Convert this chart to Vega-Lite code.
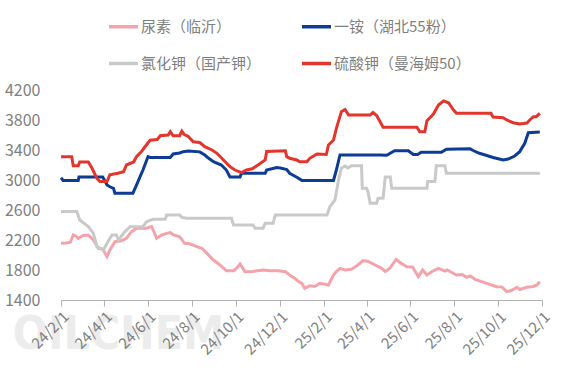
{
  "$schema": "https://vega.github.io/schema/vega-lite/v6.json",
  "width": 481,
  "height": 210,
  "autosize": {"type": "none"},
  "padding": {"left": 61, "top": 90, "right": 26, "bottom": 83},
  "background": "white",
  "config": {"view": {"stroke": null}, "font": "Noto Sans CJK SC"},
  "encoding": {
    "x": {
      "field": "date", "type": "temporal",
      "scale": {"domain": [{"year": 2024, "month": 2, "date": 1}, {"year": 2025, "month": 12, "date": 1}]},
      "axis": {
        "title": null, "grid": false, "zindex": 1, "labelOverlap": false,
        "values": [
          {"year": 2024, "month": 2, "date": 1}, {"year": 2024, "month": 4, "date": 1},
          {"year": 2024, "month": 6, "date": 1}, {"year": 2024, "month": 8, "date": 1},
          {"year": 2024, "month": 10, "date": 1}, {"year": 2024, "month": 12, "date": 1},
          {"year": 2025, "month": 2, "date": 1}, {"year": 2025, "month": 4, "date": 1},
          {"year": 2025, "month": 6, "date": 1}, {"year": 2025, "month": 8, "date": 1},
          {"year": 2025, "month": 10, "date": 1}, {"year": 2025, "month": 12, "date": 1}
        ],
        "format": "%y/%-m/%-d", "labelAngle": -45, "labelFontSize": 15,
        "labelColor": "#7f7f7f", "labelFont": "Noto Sans CJK SC",
        "domainColor": "#b3b3b3", "tickColor": "#b3b3b3", "tickSize": 6, "labelPadding": 3
      }
    },
    "y": {
      "field": "value", "type": "quantitative",
      "scale": {"domain": [1400, 4200], "nice": false},
      "axis": {
        "title": null, "grid": false, "domain": false, "ticks": false, "format": "d",
        "values": [1400, 1800, 2200, 2600, 3000, 3400, 3800, 4200],
        "labelFontSize": 16, "labelColor": "#7f7f7f", "labelFont": "Noto Sans CJK SC", "labelPadding": 21
      }
    }
  },
  "layer": [
    {
      "data": {"values": [{"label": "OILCHEM", "date": "2024-04-21", "value": 930}], "format": {"parse": {"date": "date:'%Y-%m-%d'"}}},
      "mark": {"type": "text", "font": "DejaVu Sans Condensed", "fontWeight": "bold", "fontSize": 46, "fill": "#ececec", "baseline": "middle", "align": "center"},
      "encoding": {"text": {"field": "label"}}
    },
    {
      "data": {
        "format": {"parse": {"date": "date:'%Y-%m-%d'"}},
        "values": [
          {"series": "尿素（临沂）", "date": "2024-02-01", "value": 2156},
          {"series": "尿素（临沂）", "date": "2024-02-08", "value": 2160},
          {"series": "尿素（临沂）", "date": "2024-02-14", "value": 2170},
          {"series": "尿素（临沂）", "date": "2024-02-18", "value": 2267},
          {"series": "尿素（临沂）", "date": "2024-02-22", "value": 2250},
          {"series": "尿素（临沂）", "date": "2024-02-25", "value": 2222},
          {"series": "尿素（临沂）", "date": "2024-03-03", "value": 2260},
          {"series": "尿素（临沂）", "date": "2024-03-10", "value": 2267},
          {"series": "尿素（临沂）", "date": "2024-03-17", "value": 2200},
          {"series": "尿素（临沂）", "date": "2024-03-24", "value": 2089},
          {"series": "尿素（临沂）", "date": "2024-03-30", "value": 2080},
          {"series": "尿素（临沂）", "date": "2024-04-05", "value": 1978},
          {"series": "尿素（临沂）", "date": "2024-04-09", "value": 2067},
          {"series": "尿素（临沂）", "date": "2024-04-16", "value": 2178},
          {"series": "尿素（临沂）", "date": "2024-04-25", "value": 2190},
          {"series": "尿素（临沂）", "date": "2024-05-02", "value": 2222},
          {"series": "尿素（临沂）", "date": "2024-05-09", "value": 2311},
          {"series": "尿素（临沂）", "date": "2024-05-16", "value": 2356},
          {"series": "尿素（临沂）", "date": "2024-05-30", "value": 2356},
          {"series": "尿素（临沂）", "date": "2024-06-06", "value": 2378},
          {"series": "尿素（临沂）", "date": "2024-06-08", "value": 2340},
          {"series": "尿素（临沂）", "date": "2024-06-13", "value": 2222},
          {"series": "尿素（临沂）", "date": "2024-06-20", "value": 2267},
          {"series": "尿素（临沂）", "date": "2024-06-27", "value": 2289},
          {"series": "尿素（临沂）", "date": "2024-07-02", "value": 2300},
          {"series": "尿素（临沂）", "date": "2024-07-06", "value": 2270},
          {"series": "尿素（临沂）", "date": "2024-07-15", "value": 2244},
          {"series": "尿素（临沂）", "date": "2024-07-22", "value": 2156},
          {"series": "尿素（临沂）", "date": "2024-07-29", "value": 2150},
          {"series": "尿素（临沂）", "date": "2024-08-08", "value": 2111},
          {"series": "尿素（临沂）", "date": "2024-08-15", "value": 2090},
          {"series": "尿素（临沂）", "date": "2024-08-22", "value": 2022},
          {"series": "尿素（临沂）", "date": "2024-08-31", "value": 1933},
          {"series": "尿素（临沂）", "date": "2024-09-09", "value": 1867},
          {"series": "尿素（临沂）", "date": "2024-09-18", "value": 1790},
          {"series": "尿素（临沂）", "date": "2024-09-28", "value": 1790},
          {"series": "尿素（临沂）", "date": "2024-10-03", "value": 1830},
          {"series": "尿素（临沂）", "date": "2024-10-07", "value": 1880},
          {"series": "尿素（临沂）", "date": "2024-10-14", "value": 1778},
          {"series": "尿素（临沂）", "date": "2024-10-25", "value": 1780},
          {"series": "尿素（临沂）", "date": "2024-11-08", "value": 1800},
          {"series": "尿素（临沂）", "date": "2024-11-18", "value": 1790},
          {"series": "尿素（临沂）", "date": "2024-11-29", "value": 1790},
          {"series": "尿素（临沂）", "date": "2024-12-09", "value": 1778},
          {"series": "尿素（临沂）", "date": "2024-12-15", "value": 1733},
          {"series": "尿素（临沂）", "date": "2024-12-22", "value": 1689},
          {"series": "尿素（临沂）", "date": "2024-12-27", "value": 1650},
          {"series": "尿素（临沂）", "date": "2025-01-01", "value": 1622},
          {"series": "尿素（临沂）", "date": "2025-01-05", "value": 1556},
          {"series": "尿素（临沂）", "date": "2025-01-12", "value": 1590},
          {"series": "尿素（临沂）", "date": "2025-01-19", "value": 1580},
          {"series": "尿素（临沂）", "date": "2025-01-26", "value": 1622},
          {"series": "尿素（临沂）", "date": "2025-02-07", "value": 1600},
          {"series": "尿素（临沂）", "date": "2025-02-14", "value": 1733},
          {"series": "尿素（临沂）", "date": "2025-02-18", "value": 1780},
          {"series": "尿素（临沂）", "date": "2025-02-23", "value": 1822},
          {"series": "尿素（临沂）", "date": "2025-03-02", "value": 1800},
          {"series": "尿素（临沂）", "date": "2025-03-11", "value": 1810},
          {"series": "尿素（临沂）", "date": "2025-03-20", "value": 1867},
          {"series": "尿素（临沂）", "date": "2025-03-27", "value": 1924},
          {"series": "尿素（临沂）", "date": "2025-04-03", "value": 1915},
          {"series": "尿素（临沂）", "date": "2025-04-13", "value": 1867},
          {"series": "尿素（临沂）", "date": "2025-04-22", "value": 1822},
          {"series": "尿素（临沂）", "date": "2025-04-27", "value": 1778},
          {"series": "尿素（临沂）", "date": "2025-05-04", "value": 1830},
          {"series": "尿素（临沂）", "date": "2025-05-12", "value": 1942},
          {"series": "尿素（临沂）", "date": "2025-05-19", "value": 1890},
          {"series": "尿素（临沂）", "date": "2025-05-27", "value": 1844},
          {"series": "尿素（临沂）", "date": "2025-06-04", "value": 1840},
          {"series": "尿素（临沂）", "date": "2025-06-12", "value": 1711},
          {"series": "尿素（临沂）", "date": "2025-06-18", "value": 1800},
          {"series": "尿素（临沂）", "date": "2025-06-24", "value": 1733},
          {"series": "尿素（临沂）", "date": "2025-07-01", "value": 1780},
          {"series": "尿素（临沂）", "date": "2025-07-10", "value": 1822},
          {"series": "尿素（临沂）", "date": "2025-07-19", "value": 1785},
          {"series": "尿素（临沂）", "date": "2025-07-22", "value": 1800},
          {"series": "尿素（临沂）", "date": "2025-08-04", "value": 1733},
          {"series": "尿素（临沂）", "date": "2025-08-12", "value": 1740},
          {"series": "尿素（临沂）", "date": "2025-08-18", "value": 1702},
          {"series": "尿素（临沂）", "date": "2025-08-23", "value": 1720},
          {"series": "尿素（临沂）", "date": "2025-08-30", "value": 1676},
          {"series": "尿素（临沂）", "date": "2025-09-15", "value": 1622},
          {"series": "尿素（临沂）", "date": "2025-09-29", "value": 1578},
          {"series": "尿素（临沂）", "date": "2025-10-06", "value": 1575},
          {"series": "尿素（临沂）", "date": "2025-10-13", "value": 1511},
          {"series": "尿素（临沂）", "date": "2025-10-20", "value": 1530},
          {"series": "尿素（临沂）", "date": "2025-10-27", "value": 1569},
          {"series": "尿素（临沂）", "date": "2025-10-31", "value": 1540},
          {"series": "尿素（临沂）", "date": "2025-11-10", "value": 1569},
          {"series": "尿素（临沂）", "date": "2025-11-19", "value": 1580},
          {"series": "尿素（临沂）", "date": "2025-11-24", "value": 1600},
          {"series": "尿素（临沂）", "date": "2025-11-28", "value": 1644},

          {"series": "一铵（湖北55粉）", "date": "2024-02-01", "value": 3030},
          {"series": "一铵（湖北55粉）", "date": "2024-02-04", "value": 2995},
          {"series": "一铵（湖北55粉）", "date": "2024-02-25", "value": 2995},
          {"series": "一铵（湖北55粉）", "date": "2024-02-26", "value": 3040},
          {"series": "一铵（湖北55粉）", "date": "2024-03-30", "value": 3040},
          {"series": "一铵（湖北55粉）", "date": "2024-04-05", "value": 2933},
          {"series": "一铵（湖北55粉）", "date": "2024-04-09", "value": 2910},
          {"series": "一铵（湖北55粉）", "date": "2024-04-14", "value": 2889},
          {"series": "一铵（湖北55粉）", "date": "2024-04-16", "value": 2825},
          {"series": "一铵（湖北55粉）", "date": "2024-05-11", "value": 2825},
          {"series": "一铵（湖北55粉）", "date": "2024-05-16", "value": 2933},
          {"series": "一铵（湖北55粉）", "date": "2024-05-21", "value": 3044},
          {"series": "一铵（湖北55粉）", "date": "2024-05-25", "value": 3133},
          {"series": "一铵（湖北55粉）", "date": "2024-06-01", "value": 3311},
          {"series": "一铵（湖北55粉）", "date": "2024-06-04", "value": 3300},
          {"series": "一铵（湖北55粉）", "date": "2024-07-02", "value": 3300},
          {"series": "一铵（湖北55粉）", "date": "2024-07-06", "value": 3347},
          {"series": "一铵（湖北55粉）", "date": "2024-07-15", "value": 3360},
          {"series": "一铵（湖北55粉）", "date": "2024-07-20", "value": 3378},
          {"series": "一铵（湖北55粉）", "date": "2024-07-27", "value": 3385},
          {"series": "一铵（湖北55粉）", "date": "2024-08-12", "value": 3375},
          {"series": "一铵（湖北55粉）", "date": "2024-08-19", "value": 3333},
          {"series": "一铵（湖北55粉）", "date": "2024-08-23", "value": 3300},
          {"series": "一铵（湖北55粉）", "date": "2024-08-31", "value": 3244},
          {"series": "一铵（湖北55粉）", "date": "2024-09-11", "value": 3200},
          {"series": "一铵（湖北55粉）", "date": "2024-09-18", "value": 3133},
          {"series": "一铵（湖北55粉）", "date": "2024-09-23", "value": 3040},
          {"series": "一铵（湖北55粉）", "date": "2024-10-07", "value": 3040},
          {"series": "一铵（湖北55粉）", "date": "2024-10-09", "value": 3090},
          {"series": "一铵（湖北55粉）", "date": "2024-11-11", "value": 3090},
          {"series": "一铵（湖北55粉）", "date": "2024-11-13", "value": 3133},
          {"series": "一铵（湖北55粉）", "date": "2024-11-27", "value": 3165},
          {"series": "一铵（湖北55粉）", "date": "2024-12-02", "value": 3160},
          {"series": "一铵（湖北55粉）", "date": "2024-12-11", "value": 3140},
          {"series": "一铵（湖北55粉）", "date": "2024-12-15", "value": 3090},
          {"series": "一铵（湖北55粉）", "date": "2024-12-25", "value": 3036},
          {"series": "一铵（湖北55粉）", "date": "2025-01-01", "value": 2995},
          {"series": "一铵（湖北55粉）", "date": "2025-02-14", "value": 2995},
          {"series": "一铵（湖北55粉）", "date": "2025-02-18", "value": 3133},
          {"series": "一铵（湖北55粉）", "date": "2025-02-23", "value": 3333},
          {"series": "一铵（湖北55粉）", "date": "2025-04-20", "value": 3333},
          {"series": "一铵（湖北55粉）", "date": "2025-04-29", "value": 3330},
          {"series": "一铵（湖北55粉）", "date": "2025-05-10", "value": 3390},
          {"series": "一铵（湖北55粉）", "date": "2025-05-29", "value": 3390},
          {"series": "一铵（湖北55粉）", "date": "2025-06-05", "value": 3340},
          {"series": "一铵（湖北55粉）", "date": "2025-06-11", "value": 3340},
          {"series": "一铵（湖北55粉）", "date": "2025-06-16", "value": 3370},
          {"series": "一铵（湖北55粉）", "date": "2025-07-14", "value": 3370},
          {"series": "一铵（湖北55粉）", "date": "2025-07-21", "value": 3410},
          {"series": "一铵（湖北55粉）", "date": "2025-08-23", "value": 3415},
          {"series": "一铵（湖北55粉）", "date": "2025-08-28", "value": 3390},
          {"series": "一铵（湖北55粉）", "date": "2025-09-05", "value": 3356},
          {"series": "一铵（湖北55粉）", "date": "2025-09-14", "value": 3330},
          {"series": "一铵（湖北55粉）", "date": "2025-09-24", "value": 3300},
          {"series": "一铵（湖北55粉）", "date": "2025-10-08", "value": 3267},
          {"series": "一铵（湖北55粉）", "date": "2025-10-15", "value": 3280},
          {"series": "一铵（湖北55粉）", "date": "2025-10-24", "value": 3320},
          {"series": "一铵（湖北55粉）", "date": "2025-10-31", "value": 3378},
          {"series": "一铵（湖北55粉）", "date": "2025-11-07", "value": 3489},
          {"series": "一铵（湖北55粉）", "date": "2025-11-12", "value": 3630},
          {"series": "一铵（湖北55粉）", "date": "2025-11-28", "value": 3640},

          {"series": "氯化钾（国产钾）", "date": "2024-02-01", "value": 2580},
          {"series": "氯化钾（国产钾）", "date": "2024-02-23", "value": 2580},
          {"series": "氯化钾（国产钾）", "date": "2024-02-27", "value": 2467},
          {"series": "氯化钾（国产钾）", "date": "2024-03-10", "value": 2378},
          {"series": "氯化钾（国产钾）", "date": "2024-03-17", "value": 2289},
          {"series": "氯化钾（国产钾）", "date": "2024-03-22", "value": 2111},
          {"series": "氯化钾（国产钾）", "date": "2024-03-31", "value": 2067},
          {"series": "氯化钾（国产钾）", "date": "2024-04-05", "value": 2156},
          {"series": "氯化钾（国产钾）", "date": "2024-04-12", "value": 2267},
          {"series": "氯化钾（国产钾）", "date": "2024-04-18", "value": 2267},
          {"series": "氯化钾（国产钾）", "date": "2024-04-21", "value": 2200},
          {"series": "氯化钾（国产钾）", "date": "2024-04-28", "value": 2289},
          {"series": "氯化钾（国产钾）", "date": "2024-05-07", "value": 2378},
          {"series": "氯化钾（国产钾）", "date": "2024-05-25", "value": 2378},
          {"series": "氯化钾（国产钾）", "date": "2024-05-30", "value": 2444},
          {"series": "氯化钾（国产钾）", "date": "2024-06-08", "value": 2476},
          {"series": "氯化钾（国产钾）", "date": "2024-06-25", "value": 2476},
          {"series": "氯化钾（国产钾）", "date": "2024-06-27", "value": 2533},
          {"series": "氯化钾（国产钾）", "date": "2024-07-15", "value": 2533},
          {"series": "氯化钾（国产钾）", "date": "2024-07-18", "value": 2502},
          {"series": "氯化钾（国产钾）", "date": "2024-07-25", "value": 2489},
          {"series": "氯化钾（国产钾）", "date": "2024-09-25", "value": 2489},
          {"series": "氯化钾（国产钾）", "date": "2024-09-28", "value": 2400},
          {"series": "氯化钾（国产钾）", "date": "2024-10-25", "value": 2400},
          {"series": "氯化钾（国产钾）", "date": "2024-10-28", "value": 2356},
          {"series": "氯化钾（国产钾）", "date": "2024-11-08", "value": 2356},
          {"series": "氯化钾（国产钾）", "date": "2024-11-11", "value": 2422},
          {"series": "氯化钾（国产钾）", "date": "2024-11-22", "value": 2422},
          {"series": "氯化钾（国产钾）", "date": "2024-11-25", "value": 2533},
          {"series": "氯化钾（国产钾）", "date": "2025-02-05", "value": 2533},
          {"series": "氯化钾（国产钾）", "date": "2025-02-09", "value": 2644},
          {"series": "氯化钾（国产钾）", "date": "2025-02-16", "value": 2733},
          {"series": "氯化钾（国产钾）", "date": "2025-02-21", "value": 3000},
          {"series": "氯化钾（国产钾）", "date": "2025-02-25", "value": 3156},
          {"series": "氯化钾（国产钾）", "date": "2025-03-02", "value": 3187},
          {"series": "氯化钾（国产钾）", "date": "2025-03-06", "value": 3160},
          {"series": "氯化钾（国产钾）", "date": "2025-03-11", "value": 3190},
          {"series": "氯化钾（国产钾）", "date": "2025-03-25", "value": 3190},
          {"series": "氯化钾（国产钾）", "date": "2025-03-26", "value": 2890},
          {"series": "氯化钾（国产钾）", "date": "2025-04-01", "value": 2890},
          {"series": "氯化钾（国产钾）", "date": "2025-04-03", "value": 2840},
          {"series": "氯化钾（国产钾）", "date": "2025-04-06", "value": 2690},
          {"series": "氯化钾（国产钾）", "date": "2025-04-15", "value": 2690},
          {"series": "氯化钾（国产钾）", "date": "2025-04-17", "value": 2756},
          {"series": "氯化钾（国产钾）", "date": "2025-04-24", "value": 2760},
          {"series": "氯化钾（国产钾）", "date": "2025-04-27", "value": 3040},
          {"series": "氯化钾（国产钾）", "date": "2025-05-04", "value": 3040},
          {"series": "氯化钾（国产钾）", "date": "2025-05-06", "value": 2889},
          {"series": "氯化钾（国产钾）", "date": "2025-06-24", "value": 2889},
          {"series": "氯化钾（国产钾）", "date": "2025-06-25", "value": 2980},
          {"series": "氯化钾（国产钾）", "date": "2025-07-05", "value": 2980},
          {"series": "氯化钾（国产钾）", "date": "2025-07-07", "value": 3190},
          {"series": "氯化钾（国产钾）", "date": "2025-07-19", "value": 3190},
          {"series": "氯化钾（国产钾）", "date": "2025-07-21", "value": 3090},
          {"series": "氯化钾（国产钾）", "date": "2025-11-28", "value": 3090},

          {"series": "硫酸钾（曼海姆50）", "date": "2024-02-01", "value": 3310},
          {"series": "硫酸钾（曼海姆50）", "date": "2024-02-16", "value": 3310},
          {"series": "硫酸钾（曼海姆50）", "date": "2024-02-18", "value": 3190},
          {"series": "硫酸钾（曼海姆50）", "date": "2024-02-25", "value": 3190},
          {"series": "硫酸钾（曼海姆50）", "date": "2024-02-27", "value": 3240},
          {"series": "硫酸钾（曼海姆50）", "date": "2024-03-10", "value": 3240},
          {"series": "硫酸钾（曼海姆50）", "date": "2024-03-15", "value": 3160},
          {"series": "硫酸钾（曼海姆50）", "date": "2024-03-22", "value": 3020},
          {"series": "硫酸钾（曼海姆50）", "date": "2024-03-26", "value": 2980},
          {"series": "硫酸钾（曼海姆50）", "date": "2024-04-05", "value": 2980},
          {"series": "硫酸钾（曼海姆50）", "date": "2024-04-09", "value": 3070},
          {"series": "硫酸钾（曼海姆50）", "date": "2024-04-20", "value": 3090},
          {"series": "硫酸钾（曼海姆50）", "date": "2024-04-28", "value": 3110},
          {"series": "硫酸钾（曼海姆50）", "date": "2024-05-02", "value": 3200},
          {"series": "硫酸钾（曼海姆50）", "date": "2024-05-12", "value": 3240},
          {"series": "硫酸钾（曼海姆50）", "date": "2024-05-16", "value": 3310},
          {"series": "硫酸钾（曼海姆50）", "date": "2024-05-23", "value": 3380},
          {"series": "硫酸钾（曼海姆50）", "date": "2024-05-30", "value": 3470},
          {"series": "硫酸钾（曼海姆50）", "date": "2024-06-04", "value": 3530},
          {"series": "硫酸钾（曼海姆50）", "date": "2024-06-14", "value": 3540},
          {"series": "硫酸钾（曼海姆50）", "date": "2024-06-18", "value": 3590},
          {"series": "硫酸钾（曼海姆50）", "date": "2024-06-29", "value": 3600},
          {"series": "硫酸钾（曼海姆50）", "date": "2024-07-02", "value": 3644},
          {"series": "硫酸钾（曼海姆50）", "date": "2024-07-06", "value": 3590},
          {"series": "硫酸钾（曼海姆50）", "date": "2024-07-15", "value": 3590},
          {"series": "硫酸钾（曼海姆50）", "date": "2024-07-18", "value": 3650},
          {"series": "硫酸钾（曼海姆50）", "date": "2024-07-21", "value": 3610},
          {"series": "硫酸钾（曼海姆50）", "date": "2024-07-27", "value": 3580},
          {"series": "硫酸钾（曼海姆50）", "date": "2024-08-03", "value": 3510},
          {"series": "硫酸钾（曼海姆50）", "date": "2024-08-12", "value": 3500},
          {"series": "硫酸钾（曼海姆50）", "date": "2024-08-19", "value": 3444},
          {"series": "硫酸钾（曼海姆50）", "date": "2024-08-29", "value": 3400},
          {"series": "硫酸钾（曼海姆50）", "date": "2024-09-05", "value": 3356},
          {"series": "硫酸钾（曼海姆50）", "date": "2024-09-14", "value": 3267},
          {"series": "硫酸钾（曼海姆50）", "date": "2024-09-23", "value": 3178},
          {"series": "硫酸钾（曼海姆50）", "date": "2024-09-30", "value": 3133},
          {"series": "硫酸钾（曼海姆50）", "date": "2024-10-09", "value": 3098},
          {"series": "硫酸钾（曼海姆50）", "date": "2024-10-16", "value": 3133},
          {"series": "硫酸钾（曼海姆50）", "date": "2024-10-24", "value": 3150},
          {"series": "硫酸钾（曼海姆50）", "date": "2024-11-01", "value": 3200},
          {"series": "硫酸钾（曼海姆50）", "date": "2024-11-11", "value": 3267},
          {"series": "硫酸钾（曼海姆50）", "date": "2024-11-13", "value": 3380},
          {"series": "硫酸钾（曼海姆50）", "date": "2024-12-09", "value": 3390},
          {"series": "硫酸钾（曼海姆50）", "date": "2024-12-11", "value": 3311},
          {"series": "硫酸钾（曼海姆50）", "date": "2024-12-15", "value": 3290},
          {"series": "硫酸钾（曼海姆50）", "date": "2024-12-25", "value": 3267},
          {"series": "硫酸钾（曼海姆50）", "date": "2024-12-29", "value": 3244},
          {"series": "硫酸钾（曼海姆50）", "date": "2025-01-08", "value": 3244},
          {"series": "硫酸钾（曼海姆50）", "date": "2025-01-12", "value": 3289},
          {"series": "硫酸钾（曼海姆50）", "date": "2025-01-22", "value": 3347},
          {"series": "硫酸钾（曼海姆50）", "date": "2025-02-04", "value": 3340},
          {"series": "硫酸钾（曼海姆50）", "date": "2025-02-07", "value": 3467},
          {"series": "硫酸钾（曼海姆50）", "date": "2025-02-14", "value": 3533},
          {"series": "硫酸钾（曼海姆50）", "date": "2025-02-18", "value": 3689},
          {"series": "硫酸钾（曼海姆50）", "date": "2025-02-25", "value": 3911},
          {"series": "硫酸钾（曼海姆50）", "date": "2025-03-02", "value": 3940},
          {"series": "硫酸钾（曼海姆50）", "date": "2025-03-07", "value": 3867},
          {"series": "硫酸钾（曼海姆50）", "date": "2025-04-06", "value": 3867},
          {"series": "硫酸钾（曼海姆50）", "date": "2025-04-10", "value": 3900},
          {"series": "硫酸钾（曼海姆50）", "date": "2025-04-15", "value": 3860},
          {"series": "硫酸钾（曼海姆50）", "date": "2025-04-24", "value": 3705},
          {"series": "硫酸钾（曼海姆50）", "date": "2025-06-10", "value": 3705},
          {"series": "硫酸钾（曼海姆50）", "date": "2025-06-14", "value": 3644},
          {"series": "硫酸钾（曼海姆50）", "date": "2025-06-21", "value": 3644},
          {"series": "硫酸钾（曼海姆50）", "date": "2025-06-24", "value": 3790},
          {"series": "硫酸钾（曼海姆50）", "date": "2025-07-03", "value": 3880},
          {"series": "硫酸钾（曼海姆50）", "date": "2025-07-10", "value": 4000},
          {"series": "硫酸钾（曼海姆50）", "date": "2025-07-17", "value": 4055},
          {"series": "硫酸钾（曼海姆50）", "date": "2025-07-24", "value": 4030},
          {"series": "硫酸钾（曼海姆50）", "date": "2025-07-31", "value": 3933},
          {"series": "硫酸钾（曼海姆50）", "date": "2025-08-04", "value": 3889},
          {"series": "硫酸钾（曼海姆50）", "date": "2025-09-21", "value": 3889},
          {"series": "硫酸钾（曼海姆50）", "date": "2025-09-24", "value": 3840},
          {"series": "硫酸钾（曼海姆50）", "date": "2025-10-08", "value": 3830},
          {"series": "硫酸钾（曼海姆50）", "date": "2025-10-13", "value": 3800},
          {"series": "硫酸钾（曼海姆50）", "date": "2025-10-22", "value": 3764},
          {"series": "硫酸钾（曼海姆50）", "date": "2025-10-31", "value": 3747},
          {"series": "硫酸钾（曼海姆50）", "date": "2025-11-10", "value": 3760},
          {"series": "硫酸钾（曼海姆50）", "date": "2025-11-14", "value": 3800},
          {"series": "硫酸钾（曼海姆50）", "date": "2025-11-19", "value": 3844},
          {"series": "硫酸钾（曼海姆50）", "date": "2025-11-23", "value": 3844},
          {"series": "硫酸钾（曼海姆50）", "date": "2025-11-28", "value": 3889}
        ]
      },
      "mark": {"type": "line", "strokeWidth": 3, "interpolate": "linear"},
      "encoding": {
        "color": {
          "field": "series", "type": "nominal",
          "scale": {
            "domain": ["尿素（临沂）", "一铵（湖北55粉）", "氯化钾（国产钾）", "硫酸钾（曼海姆50）"],
            "range": ["#f5a3ab", "#0c3c94", "#c9c9c9", "#e2362c"]
          },
          "legend": {
            "orient": "none", "legendX": 46, "legendY": -80, "direction": "horizontal", "columns": 2,
            "title": null, "symbolType": "stroke", "symbolSize": 841, "symbolStrokeWidth": 3.5,
            "labelFont": "Noto Sans CJK SC", "labelFontSize": 15, "labelColor": "#7f7f7f",
            "labelOffset": 1, "columnPadding": 33, "rowPadding": 12, "labelLimit": 300, "padding": 0
          }
        }
      }
    }
  ]
}
